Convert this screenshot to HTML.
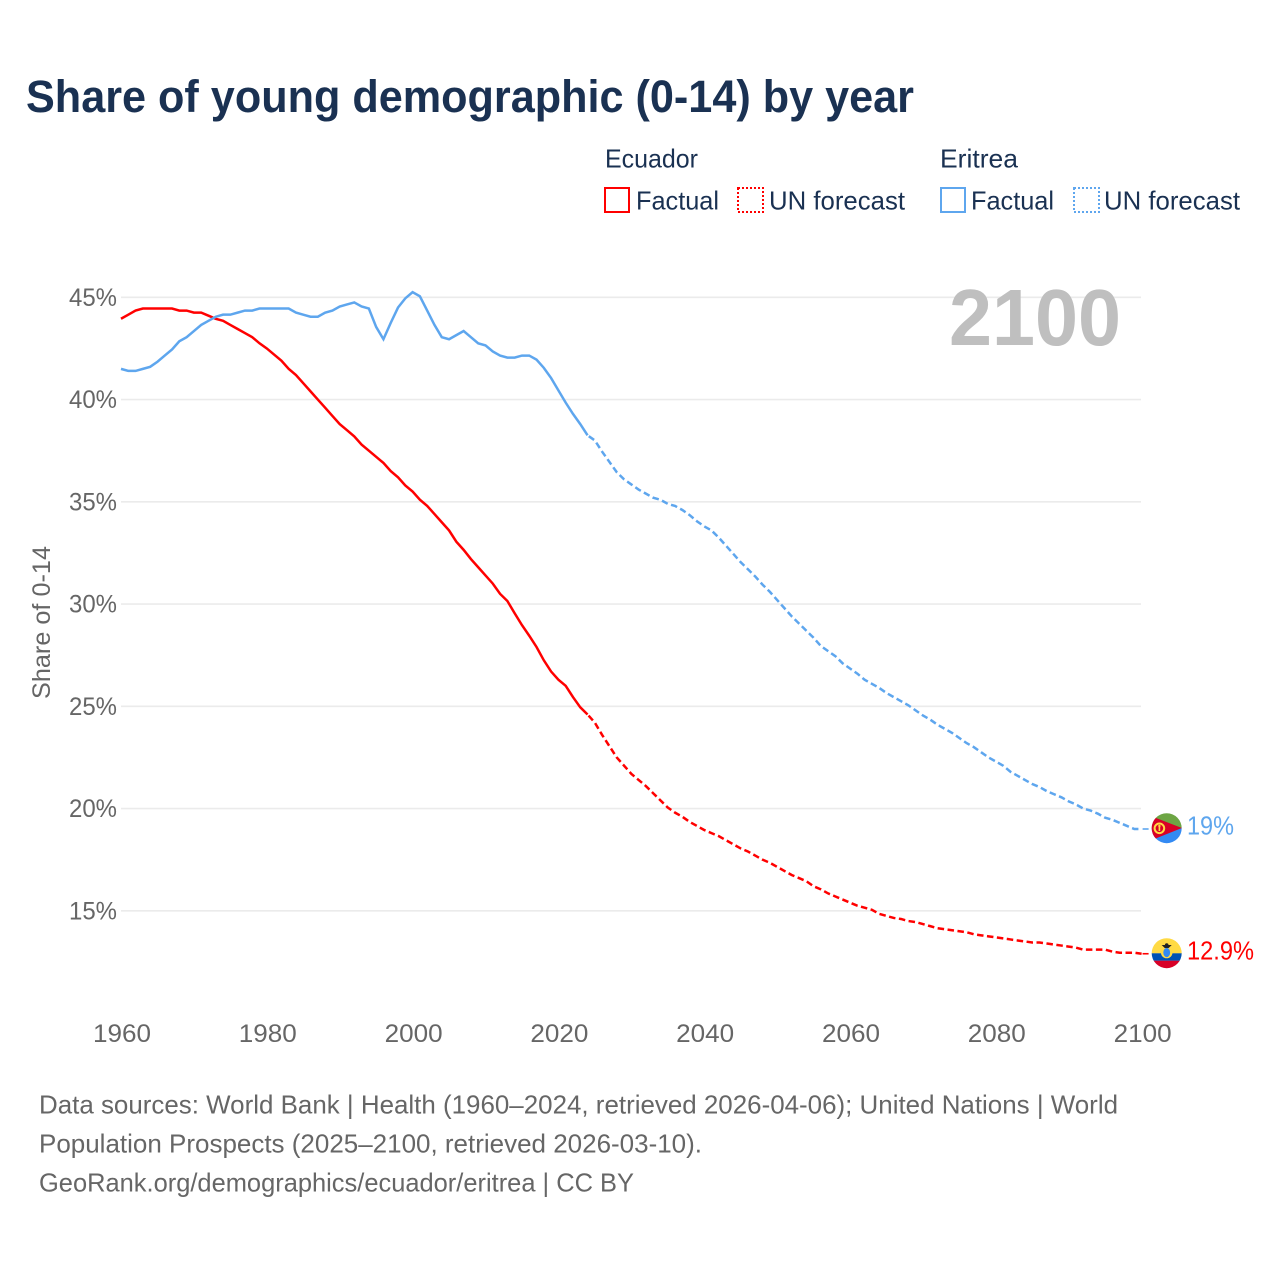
<!DOCTYPE html>
<html lang="en">
<head>
<meta charset="utf-8">
<title>Share of young demographic (0-14) by year</title>
<style>
html,body{margin:0;padding:0;background:#fff;}
svg{display:block;font-family:"Liberation Sans",sans-serif;}
</style>
</head>
<body>
<svg id="chart" xmlns="http://www.w3.org/2000/svg" width="1280" height="1280" viewBox="0 0 1280 1280">
  <rect x="0" y="0" width="1280" height="1280" fill="#ffffff"/>
  <text x="26" y="112" font-size="45" font-weight="700" fill="#1a3152" textLength="888" lengthAdjust="spacingAndGlyphs">Share of young demographic (0-14) by year</text>

  <g font-size="26" fill="#1a3152">
    <text x="605" y="167.5" textLength="93" lengthAdjust="spacingAndGlyphs">Ecuador</text>
    <text x="940" y="167.5" textLength="78" lengthAdjust="spacingAndGlyphs">Eritrea</text>
    <rect x="605" y="188" width="24" height="24" fill="none" stroke="#ff0000" stroke-width="2"/>
    <text x="636" y="209.5" textLength="83" lengthAdjust="spacingAndGlyphs">Factual</text>
    <rect x="738" y="188" width="25" height="24" fill="none" stroke="#ff0000" stroke-width="2" stroke-dasharray="2 2"/>
    <text x="769" y="209.5" textLength="136" lengthAdjust="spacingAndGlyphs">UN forecast</text>
    <rect x="941" y="188" width="24" height="24" fill="none" stroke="#5ea6ee" stroke-width="2"/>
    <text x="971" y="209.5" textLength="83" lengthAdjust="spacingAndGlyphs">Factual</text>
    <rect x="1074" y="188" width="25" height="24" fill="none" stroke="#5ea6ee" stroke-width="2" stroke-dasharray="2 2"/>
    <text x="1104" y="209.5" textLength="136" lengthAdjust="spacingAndGlyphs">UN forecast</text>
  </g>

  <g id="grid"></g>
  <g id="yticks" font-size="25" fill="#666666"></g>
  <g id="xticks" font-size="25" fill="#666666"></g>

  <text transform="translate(50,699) rotate(-90)" font-size="25" fill="#666666" textLength="153" lengthAdjust="spacingAndGlyphs">Share of 0-14</text>

  <text x="949" y="345" font-size="80" font-weight="700" fill="#bfbfbf" textLength="172" lengthAdjust="spacingAndGlyphs">2100</text>

  <g id="series"></g>

  <defs>
    <clipPath id="clip-eritrea"><circle cx="1166.7" cy="828.2" r="15"/></clipPath>
    <clipPath id="clip-ecuador"><circle cx="1166.7" cy="953.2" r="15"/></clipPath>
  </defs>
  <g clip-path="url(#clip-eritrea)">
    <rect x="1150" y="812" width="34" height="16.2" fill="#6da544"/>
    <rect x="1150" y="828.2" width="34" height="16" fill="#338af3"/>
    <polygon points="1148,814.9 1181.9,828 1148,841.5" fill="#d80027"/>
    <circle cx="1159.4" cy="828.3" r="4.8" fill="none" stroke="#ffda44" stroke-width="2"/>
    <rect x="1158.6" y="826" width="1.6" height="5" fill="#ffda44"/>
    <circle cx="1159.4" cy="826" r="1.2" fill="#ffda44"/>
  </g>
  <g clip-path="url(#clip-ecuador)">
    <rect x="1150" y="937" width="34" height="16.4" fill="#ffda44"/>
    <rect x="1150" y="953.3" width="34" height="7.5" fill="#0052b4"/>
    <rect x="1150" y="960.7" width="34" height="9" fill="#d80027"/>
    <circle cx="1166.7" cy="952.5" r="5.8" fill="#ffda44"/>
    <ellipse cx="1166.7" cy="952.5" rx="3.4" ry="4.6" fill="#338af3"/>
    <polygon points="1161.7,945 1171.7,945 1168.7,948 1164.7,948" fill="#222222"/>
    <circle cx="1166.7" cy="945" r="1.8" fill="#222222"/>
  </g>

  <g id="endlabels" font-size="26"></g>

  <g font-size="26" fill="#666666">
    <text x="39" y="1113.5" textLength="1079" lengthAdjust="spacingAndGlyphs">Data sources: World Bank | Health (1960–2024, retrieved 2026-04-06); United Nations | World</text>
    <text x="39" y="1152.5" textLength="663" lengthAdjust="spacingAndGlyphs">Population Prospects (2025–2100, retrieved 2026-03-10).</text>
    <text x="39" y="1191.5" textLength="595" lengthAdjust="spacingAndGlyphs">GeoRank.org/demographics/ecuador/eritrea | CC BY</text>
  </g>
</svg>
<script>
const factualStartYear = 1960;
const forecastStartYear = 2024;
const xTickYears = [1960, 1980, 2000, 2020, 2040, 2060, 2080, 2100];
const xTickLabels = ["1960", "1980", "2000", "2020", "2040", "2060", "2080", "2100"];
const yTickValues = [45, 40, 35, 30, 25, 20, 15];
const yTickLabels = ["45%", "40%", "35%", "30%", "25%", "20%", "15%"];
const ecuadorFactual = [43.95,44.15,44.35,44.45,44.45,44.45,44.45,44.45,44.35,44.35,44.25,44.25,44.1,43.95,43.85,43.65,43.45,43.25,43.05,42.75,42.5,42.2,41.9,41.5,41.2,40.8,40.4,40.0,39.6,39.2,38.8,38.5,38.2,37.8,37.5,37.2,36.9,36.5,36.2,35.8,35.5,35.1,34.8,34.4,34.0,33.6,33.05,32.65,32.2,31.8,31.4,31.0,30.5,30.15,29.55,28.97,28.45,27.9,27.25,26.7,26.3,26.0,25.45,24.95,24.6];
const ecuadorForecast = [24.6,24.2,23.6,23.05,22.5,22.1,21.7,21.4,21.1,20.75,20.4,20.05,19.8,19.6,19.35,19.15,18.95,18.8,18.65,18.45,18.25,18.05,17.9,17.7,17.5,17.35,17.15,16.95,16.75,16.6,16.45,16.2,16.05,15.85,15.7,15.55,15.4,15.25,15.15,15.05,14.85,14.75,14.65,14.6,14.5,14.45,14.35,14.25,14.15,14.1,14.05,14.0,13.95,13.85,13.8,13.75,13.7,13.65,13.6,13.55,13.5,13.45,13.45,13.4,13.35,13.3,13.25,13.2,13.1,13.1,13.1,13.1,13.0,12.95,12.95,12.95,12.9];
const eritreaFactual = [41.5,41.4,41.4,41.5,41.6,41.85,42.15,42.45,42.85,43.05,43.35,43.65,43.85,44.05,44.15,44.15,44.25,44.35,44.35,44.45,44.45,44.45,44.45,44.45,44.25,44.15,44.05,44.05,44.25,44.35,44.55,44.65,44.75,44.55,44.45,43.55,42.95,43.75,44.5,44.95,45.25,45.05,44.35,43.65,43.05,42.95,43.15,43.35,43.05,42.75,42.65,42.35,42.15,42.05,42.05,42.15,42.15,41.95,41.55,41.05,40.45,39.85,39.3,38.8,38.25];
const eritreaForecast = [38.25,38.0,37.45,36.95,36.45,36.1,35.85,35.6,35.4,35.2,35.1,34.9,34.8,34.6,34.35,34.05,33.8,33.6,33.25,32.85,32.45,32.05,31.7,31.35,30.95,30.6,30.2,29.8,29.4,29.05,28.7,28.35,27.95,27.7,27.45,27.1,26.85,26.6,26.3,26.1,25.9,25.65,25.45,25.25,25.05,24.8,24.55,24.35,24.1,23.9,23.7,23.45,23.2,23.0,22.75,22.5,22.3,22.1,21.8,21.6,21.4,21.2,21.05,20.85,20.7,20.55,20.35,20.2,20.0,19.9,19.75,19.55,19.45,19.3,19.15,19.0,19.0];
const endLabelEcuador = "12.9%";
const endLabelEritrea = "19%";

const NS = "http://www.w3.org/2000/svg";
const ecuadorColor = "#ff0000";
const eritreaColor = "#5ea6ee";
function xScale(year) { return 121 + (year - 1960) * 7.29; }
function yScale(value) { return 297.3 + (45 - value) * 20.45; }
function pathFrom(values, startYear) {
  return values.map(function (v, i) {
    return (i ? "L" : "M") + xScale(startYear + i).toFixed(2) + " " + yScale(v).toFixed(2);
  }).join(" ");
}

const grid = document.getElementById("grid");
yTickValues.forEach(function (v) {
  const line = document.createElementNS(NS, "line");
  
  
  line.setAttribute("x1", 121);
  line.setAttribute("x2", 1141);
  line.setAttribute("y1", yScale(v));
  line.setAttribute("y2", yScale(v));
  line.setAttribute("stroke", "#ebebeb");
  line.setAttribute("stroke-width", "1.6");
  grid.appendChild(line);
});

const yticks = document.getElementById("yticks");
yTickValues.forEach(function (v, i) {
  const t = document.createElementNS(NS, "text");
  
  
  t.setAttribute("x", 69);
  t.setAttribute("y", yScale(v) + 8.5);
  t.setAttribute("textLength", 48);
  t.setAttribute("lengthAdjust", "spacingAndGlyphs");
  t.textContent = yTickLabels[i];
  yticks.appendChild(t);
});

const xticks = document.getElementById("xticks");
xTickYears.forEach(function (y, i) {
  const t = document.createElementNS(NS, "text");
  
  
  t.setAttribute("x", xScale(y) - 28);
  t.setAttribute("y", 1042);
  t.setAttribute("textLength", 58);
  t.setAttribute("lengthAdjust", "spacingAndGlyphs");
  t.textContent = xTickLabels[i];
  xticks.appendChild(t);
});

const series = document.getElementById("series");
const ecuadorSolid = document.createElementNS(NS, "path");


ecuadorSolid.setAttribute("d", pathFrom(ecuadorFactual, factualStartYear));
ecuadorSolid.setAttribute("fill", "none");
ecuadorSolid.setAttribute("stroke", ecuadorColor);
ecuadorSolid.setAttribute("stroke-width", "2.5");
series.appendChild(ecuadorSolid);

const ecuadorDash = document.createElementNS(NS, "path");


ecuadorDash.setAttribute("d", pathFrom(ecuadorForecast, forecastStartYear));
ecuadorDash.setAttribute("fill", "none");
ecuadorDash.setAttribute("stroke", ecuadorColor);
ecuadorDash.setAttribute("stroke-width", "2.5");
ecuadorDash.setAttribute("stroke-dasharray", "6.5 3.5");
ecuadorDash.setAttribute("stroke-dashoffset", "-1.5");
series.appendChild(ecuadorDash);

const eritreaSolid = document.createElementNS(NS, "path");


eritreaSolid.setAttribute("d", pathFrom(eritreaFactual, factualStartYear));
eritreaSolid.setAttribute("fill", "none");
eritreaSolid.setAttribute("stroke", eritreaColor);
eritreaSolid.setAttribute("stroke-width", "2.5");
series.appendChild(eritreaSolid);

const eritreaDash = document.createElementNS(NS, "path");


eritreaDash.setAttribute("d", pathFrom(eritreaForecast, forecastStartYear));
eritreaDash.setAttribute("fill", "none");
eritreaDash.setAttribute("stroke", eritreaColor);
eritreaDash.setAttribute("stroke-width", "2.5");
eritreaDash.setAttribute("stroke-dasharray", "6.5 3.5");
eritreaDash.setAttribute("stroke-dashoffset", "-1.5");
series.appendChild(eritreaDash);

const ecuadorLead = document.createElementNS(NS, "line");


ecuadorLead.setAttribute("x1", xScale(2100) + 1);
ecuadorLead.setAttribute("x2", xScale(2100) + 7);
ecuadorLead.setAttribute("y1", yScale(ecuadorForecast[ecuadorForecast.length - 1]));
ecuadorLead.setAttribute("y2", yScale(ecuadorForecast[ecuadorForecast.length - 1]));
ecuadorLead.setAttribute("stroke", ecuadorColor);
ecuadorLead.setAttribute("stroke-width", "1.6");
series.appendChild(ecuadorLead);

const eritreaLead = document.createElementNS(NS, "line");


eritreaLead.setAttribute("x1", xScale(2100) + 1);
eritreaLead.setAttribute("x2", xScale(2100) + 7);
eritreaLead.setAttribute("y1", yScale(eritreaForecast[eritreaForecast.length - 1]));
eritreaLead.setAttribute("y2", yScale(eritreaForecast[eritreaForecast.length - 1]));
eritreaLead.setAttribute("stroke", eritreaColor);
eritreaLead.setAttribute("stroke-width", "1.6");
series.appendChild(eritreaLead);

const endlabels = document.getElementById("endlabels");
const labelEcuador = document.createElementNS(NS, "text");


labelEcuador.setAttribute("x", 1187);
labelEcuador.setAttribute("y", yScale(ecuadorForecast[ecuadorForecast.length - 1]) + 6);
labelEcuador.setAttribute("fill", ecuadorColor);
labelEcuador.setAttribute("textLength", 67);
labelEcuador.setAttribute("lengthAdjust", "spacingAndGlyphs");
labelEcuador.textContent = endLabelEcuador;
endlabels.appendChild(labelEcuador);

const labelEritrea = document.createElementNS(NS, "text");


labelEritrea.setAttribute("x", 1187);
labelEritrea.setAttribute("y", yScale(eritreaForecast[eritreaForecast.length - 1]) + 5.5);
labelEritrea.setAttribute("fill", eritreaColor);
labelEritrea.setAttribute("textLength", 47);
labelEritrea.setAttribute("lengthAdjust", "spacingAndGlyphs");
labelEritrea.textContent = endLabelEritrea;
endlabels.appendChild(labelEritrea);
</script>
</body>
</html>
